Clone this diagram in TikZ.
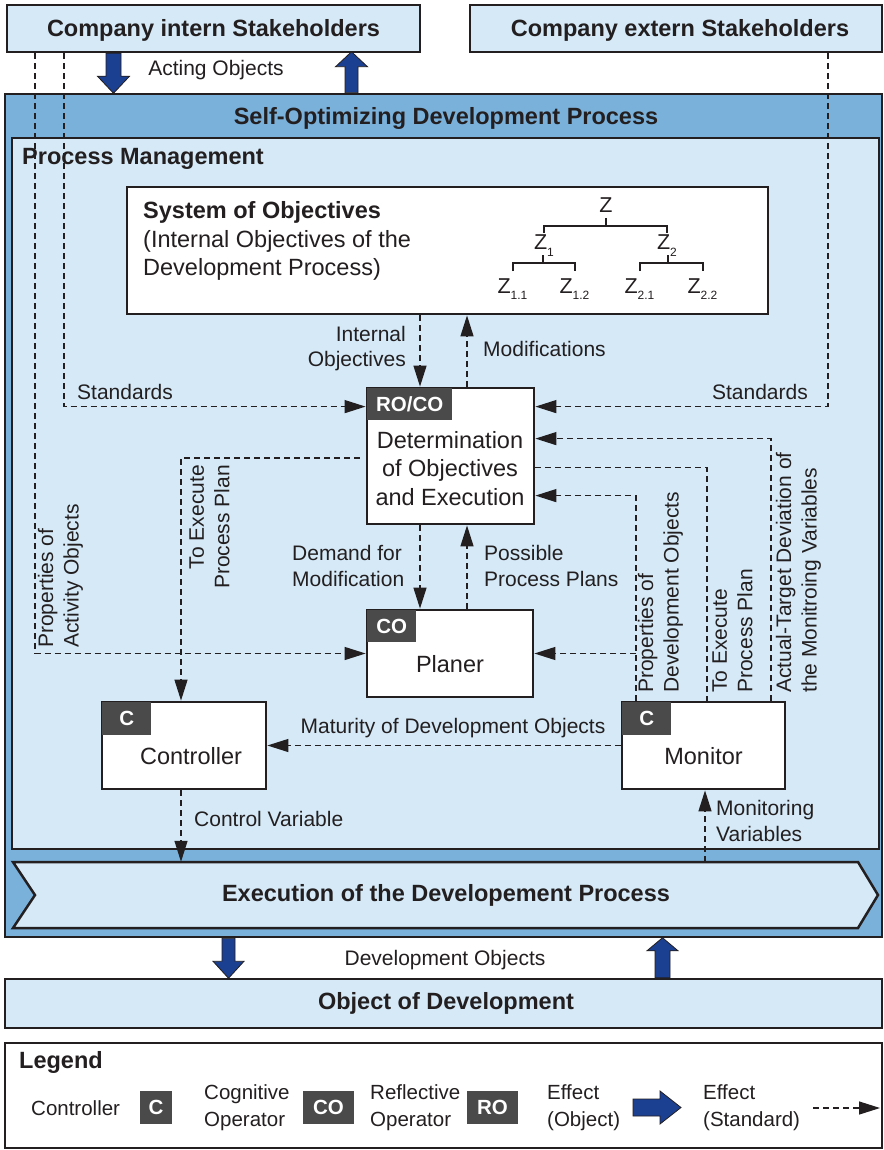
\documentclass[tikz,border=0pt]{standalone}
\usepackage{fontspec}
\setmainfont{Liberation Sans}
\usetikzlibrary{arrows.meta,calc}

\definecolor{paleblue}{HTML}{D5E9F7}
\definecolor{midblue}{HTML}{7AB1DB}
\definecolor{effectblue}{HTML}{1B3F91}
\definecolor{badgegray}{HTML}{4A4A4A}
\definecolor{ink}{HTML}{231F20}

\newcommand{\mainsize}{\fontsize{23.5pt}{28.5pt}\selectfont}
\newcommand{\labelsize}{\fontsize{21pt}{25.5pt}\selectfont}
\newcommand{\legendsize}{\fontsize{20.5pt}{27pt}\selectfont}
\newcommand{\badgesize}{\fontsize{20.5pt}{22pt}\selectfont}
\newcommand{\zsize}{\fontsize{21.5pt}{22pt}\selectfont}
\newcommand{\zsub}[1]{\raisebox{-6pt}{\fontsize{12pt}{13pt}\selectfont #1}}

\tikzset{
  panel/.style={draw=ink, line width=2.5pt, fill=paleblue, inner sep=0pt},
  outerpanel/.style={draw=ink, line width=2.5pt, fill=midblue, inner sep=0pt},
  opbox/.style={draw=ink, line width=2.8pt, fill=white, inner sep=0pt},
  badge/.style={fill=badgegray, text=white, font=\badgesize\bfseries, inner sep=0pt, anchor=north west},
  flowline/.style={draw=ink, line width=1.3pt, dash pattern=on 6pt off 4pt},
  flow/.style={flowline, -{Triangle[length=21pt,width=13pt]}},
  lbl/.style={font=\labelsize, text=ink, inner sep=0pt},
  legtext/.style={font=\legendsize, text=ink, inner sep=0pt, anchor=west, align=left},
  heading/.style={font=\mainsize\bfseries, text=ink, inner sep=0pt},
  body/.style={font=\mainsize, text=ink, inner sep=0pt},
  effect/.style={draw=ink, line width=0.8pt, fill=effectblue, line join=miter},
  treeline/.style={draw=ink, line width=2pt},
  zname/.style={font=\zsize, text=ink, inner sep=0pt, anchor=base},
}

\begin{document}
\begin{tikzpicture}[x=1pt, y=-1pt]
\useasboundingbox (0,0) rectangle (883,1150);
\fill[white] (0,0) rectangle (883,1150);

% ---------- stakeholders ----------
\node[panel, minimum width=413pt, minimum height=47pt] (intern) at (213.5,28.5) {};
\node[heading] (internT) at (213.5,30) {Company intern Stakeholders};
\node[panel, minimum width=412pt, minimum height=47pt] (extern) at (676,28.5) {};
\node[heading] (externT) at (680,30) {Company extern Stakeholders};

% ---------- self-optimizing process ----------
\node[outerpanel, minimum width=877pt, minimum height=843pt] (sop) at (443.5,515.5) {};
\node[heading] (sopT) at (446,118) {Self-Optimizing Development Process};
\node[panel, minimum width=867pt, minimum height=711pt] (pm) at (445.5,493.5) {};
\node[heading, anchor=west] (pmT) at (22,158.5) {Process Management};

% system of objectives
\node[opbox, minimum width=641pt, minimum height=127pt] (sys) at (447.5,250.5) {};
\node[body, anchor=west, align=left] (sysT) at (143,241)
  {\textbf{System of Objectives}\\(Internal Objectives of the\\Development Process)};

% objective tree
\node[zname] (zt)  at (606,213) {Z};
\node[zname] (za)  at (544,250) {Z\zsub{1}};
\node[zname] (zb)  at (667,250) {Z\zsub{2}};
\node[zname] (zaa) at (512.5,293) {Z\zsub{1.1}};
\node[zname] (zab) at (574.5,293) {Z\zsub{1.2}};
\node[zname] (zba) at (639.5,293) {Z\zsub{2.1}};
\node[zname] (zbb) at (702.5,293) {Z\zsub{2.2}};
\draw[treeline] ($(zt.base)+(0,5)$) -- ++(0,8) coordinate (zbar0);
\draw[treeline] ($(za.north)+(0,-2)$) |- (zbar0) -| ($(zb.north)+(0,-2)$);
\draw[treeline] ($(za.base)+(-1,5)$) -- ++(0,8) coordinate (zbar1);
\draw[treeline] ($(zaa.north)+(0,-7)$) |- (zbar1) -| ($(zab.north)+(0,-7)$);
\draw[treeline] ($(zb.base)+(1,5)$) -- ++(0,8) coordinate (zbar2);
\draw[treeline] ($(zba.north)+(0,-7)$) |- (zbar2) -| ($(zbb.north)+(0,-7)$);

% operator boxes
\node[opbox, minimum width=167pt, minimum height=136pt] (det) at (450.5,456) {};
\node[badge, minimum width=85pt, minimum height=32pt] (detB) at ($(det.north west)+(1.4,1.4)$) {RO/CO};
\node[body, align=center] (detT) at (450,468.5) {Determination\\of Objectives\\and Execution};

\node[opbox, minimum width=166pt, minimum height=87pt] (plan) at (450,653.5) {};
\node[badge, minimum width=49pt, minimum height=32pt] (planB) at ($(plan.north west)+(1.4,1.4)$) {CO};
\node[body] (planT) at (450,664) {Planer};

\node[opbox, minimum width=164pt, minimum height=87pt] (ctrl) at (184,745.5) {};
\node[badge, minimum width=49pt, minimum height=33pt] (ctrlB) at ($(ctrl.north west)+(1.4,1.4)$) {C};
\node[body] (ctrlT) at (191,756) {Controller};

\node[opbox, minimum width=163pt, minimum height=87pt] (mon) at (703.5,745.5) {};
\node[badge, minimum width=49pt, minimum height=33pt] (monB) at ($(mon.north west)+(1.4,1.4)$) {C};
\node[body] (monT) at (703.5,756) {Monitor};

% execution banner
\draw[draw=ink, line width=2.5pt, fill=paleblue, line join=miter]
  (13,862) -- (858,862) -- (878,895) -- (858,928) -- (13,928) -- (35,895) -- cycle;
\node[heading, minimum width=845pt, minimum height=66pt] (exec) at (446,895)
  {Execution of the Developement Process};

% ---------- object of development ----------
\node[panel, minimum width=877pt, minimum height=49pt] (obj) at (443.5,1003.5) {};
\node[heading] (objT) at (446,1003) {Object of Development};

% ---------- connector columns ----------
\coordinate (xPA) at (35,0);
\coordinate (xSL) at (64,0);
\coordinate (xTL) at (181,0);
\coordinate (xIO) at (420,0);
\coordinate (xMD) at (467,0);
\coordinate (xPD) at (636,0);
\coordinate (xMV) at (705,0);
\coordinate (xTR) at (707,0);
\coordinate (xAT) at (771,0);
\coordinate (xSR) at (828,0);
\coordinate (xAOd) at (113.5,0);
\coordinate (xAOu) at (351.5,0);
\coordinate (xDOd) at (228.5,0);
\coordinate (xDOu) at (662.5,0);

% object effects (block arrows)
\draw[effect] (intern.south -| xAOd) ++(-7.5,0) -- ++(15,0) -- ++(0,23) -- ++(8.5,0)
  -- ++(-16,17) -- ++(-16,-17) -- ++(8.5,0) -- cycle;
\draw[effect] (sop.north -| xAOu) ++(-6.5,0) -- ++(0,-26) -- ++(-9.5,0)
  -- ++(16,-15) -- ++(16,15) -- ++(-9.5,0) -- ++(0,26) -- cycle;
\node[lbl] (actT) at (216,70.5) {Acting Objects};
\draw[effect] (sop.south -| xDOd) ++(-6.5,0) -- ++(13,0) -- ++(0,23) -- ++(9,0)
  -- ++(-15.5,17) -- ++(-15.5,-17) -- ++(9,0) -- cycle;
\draw[effect] (obj.north -| xDOu) ++(-7.5,0) -- ++(0,-27) -- ++(-8,0)
  -- ++(15.5,-13) -- ++(15.5,13) -- ++(-8,0) -- ++(0,27) -- cycle;
\node[lbl] (devT) at (445,960.5) {Development Objects};

% standard effects (dashed arrows)
\draw[flow] (sys.south -| xIO) -- (det.north -| xIO);
\node[lbl, anchor=east, align=right] (ioT) at (406,348.5) {Internal\\Objectives};
\draw[flow] (det.north -| xMD) -- (sys.south -| xMD);
\node[lbl, anchor=west] (modT) at (483,348.5) {Modifications};

\draw[flow] (intern.south -| xSL) |- ($(det.north west)+(0,20)$);
\node[lbl, anchor=west] (stlT) at (77,391.5) {Standards};
\draw[flow] (extern.south -| xSR) |- ($(det.north east)+(0,20)$);
\node[lbl, anchor=east] (strT) at (808,391.5) {Standards};

\draw[flow] (intern.south -| xPA) |- (plan.west);
\node[lbl, rotate=90, anchor=west, align=left] (paT) at (60.5,648) {Properties of\\Activity Objects};

\draw[flow] ($(det.west)+(-6,2)$) -| (ctrl.north -| xTL);
\node[lbl, rotate=90, anchor=east, align=right] (tlT) at (209.5,465) {To Execute\\Process Plan};

\draw[flow] (mon.north -| xAT) |- ($(det.north east)+(0,52)$);
\draw[flowline] ($(det.north east)+(0,81)$) -| (mon.north -| xTR);
\draw[flow] (mon.north -| xPD) |- ($(det.north east)+(0,109)$);
\coordinate (pdJoin) at (plan.east -| xPD);
\draw[flow] (pdJoin) -- (plan.east);
\node[lbl, rotate=90, anchor=west, align=left] (pdT) at (660.5,693) {Properties of\\Development Objects};
\node[lbl, rotate=90, anchor=west, align=left] (trT) at (732.5,693) {To Execute\\Process Plan};
\node[lbl, rotate=90, anchor=west, align=left] (atT) at (798.5,693) {Actual-Target Deviation of\\the Monitroing Variables};

\draw[flow] (det.south -| xIO) -- (plan.north -| xIO);
\node[lbl, anchor=west, align=left] (dmT) at (292,566) {Demand for\\Modification};
\draw[flow] (plan.north -| xMD) -- (det.south -| xMD);
\node[lbl, anchor=west, align=left] (ppT) at (484,566) {Possible\\Process Plans};

\draw[flow] (mon.west) -- (ctrl.east);
\node[lbl] (matT) at (453,728.5) {Maturity of Development Objects};

\draw[flow] (ctrl.south -| xTL) -- (exec.north -| xTL);
\node[lbl, anchor=west] (cvT) at (194,818.5) {Control Variable};
\draw[flow] (exec.north -| xMV) -- (mon.south -| xMV);
\node[lbl, anchor=west, align=left] (mvT) at (716,821) {Monitoring\\Variables};

% ---------- legend ----------
\node[opbox, line width=2.5pt, minimum width=877pt, minimum height=105pt] (legend) at (443.5,1095.5) {};
\node[heading, anchor=west] (legT) at (19,1062) {Legend};
\node[legtext] (lgCtrl) at (31,1108) {Controller};
\node[badge, anchor=center, minimum width=32pt, minimum height=33pt] (lgC) at (156,1107.5) {C};
\node[legtext] (lgCog) at (204,1108) {Cognitive\\Operator};
\node[badge, anchor=center, minimum width=51pt, minimum height=33pt] (lgCO) at (328.5,1107.5) {CO};
\node[legtext] (lgRef) at (370,1108) {Reflective\\Operator};
\node[badge, anchor=center, minimum width=51pt, minimum height=33pt] (lgRO) at (492.5,1107.5) {RO};
\node[legtext] (lgEo) at (547,1108) {Effect\\(Object)};
\draw[effect] (633,1099) -- (660,1099) -- (660,1091) -- (681,1107.5) -- (660,1124)
  -- (660,1116) -- (633,1116) -- cycle;
\node[legtext] (lgEs) at (703,1108) {Effect\\(Standard)};
\coordinate (lgS0) at (813,1108);
\coordinate (lgS1) at (880,1108);
\draw[flow] (lgS0) -- (lgS1);
\end{tikzpicture}
\end{document}
